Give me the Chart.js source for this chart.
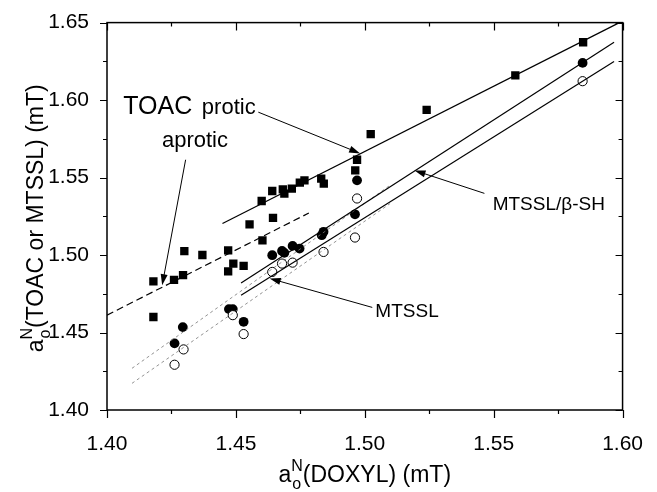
<!DOCTYPE html>
<html>
<head>
<meta charset="utf-8">
<script src="https://cdn.jsdelivr.net/npm/chart.js@4.4.1/dist/chart.umd.min.js"></script>
<style>
  html, body { margin: 0; padding: 0; background: #fff; }
  #wrap { width: 657px; height: 492px; position: relative; }
</style>
</head>
<body>
<div id="wrap"><canvas id="chart"></canvas></div>
<script>
// TOAC (filled squares)
const toacX = [1.418, 1.418, 1.426, 1.4295, 1.430, 1.437, 1.447, 1.447, 1.449, 1.453, 1.4553, 1.4603, 1.4644, 1.460,
  1.4641, 1.4682, 1.4688, 1.4717, 1.4748, 1.4766, 1.4831, 1.4841, 1.4963, 1.497, 1.5023, 1.524, 1.5584, 1.5847];
const toacY = [1.483, 1.460, 1.484, 1.487, 1.5025, 1.500, 1.503, 1.4895, 1.4945, 1.493, 1.5198, 1.5095, 1.524, 1.5349,
  1.5413, 1.5424, 1.5396, 1.5429, 1.5467, 1.5482, 1.5493, 1.5461, 1.5546, 1.5615, 1.578, 1.5937, 1.6159, 1.6373];

// MTSSL/beta-SH (filled circles)
const bshX = [1.4262, 1.4294, 1.4473, 1.4488, 1.453, 1.4641, 1.4679, 1.4688, 1.472, 1.4747, 1.4833, 1.484, 1.4962, 1.497, 1.5845];
const bshY = [1.443, 1.4535, 1.4651, 1.4651, 1.4569, 1.4999, 1.5026, 1.5014, 1.5059, 1.5042, 1.5128, 1.515, 1.5263, 1.5482, 1.624];

// MTSSL (open circles)
const mtsslX = [1.4262, 1.4297, 1.4488, 1.453, 1.4641, 1.4679, 1.472, 1.484, 1.4962, 1.497, 1.5845];
const mtsslY = [1.4292, 1.4391, 1.4612, 1.449, 1.4891, 1.4945, 1.4951, 1.502, 1.5113, 1.5365, 1.6122];

// fitted lines (end points)
const proticLineX = [1.4448, 1.5982], proticLineY = [1.5203, 1.6495];
const aproticLineX = [1.400, 1.4783], aproticLineY = [1.4612, 1.5271];
const bshLineX = [1.452, 1.5967], bshLineY = [1.482, 1.6373];
const mtsslLineX = [1.452, 1.5967], mtsslLineY = [1.474, 1.6249];
const bshExtX = [1.4097, 1.5098], bshExtY = [1.4269, 1.545];
const mtsslExtX = [1.4097, 1.5098], mtsslExtY = [1.4172, 1.5332];

// axes
const xTicks = [1.40, 1.45, 1.50, 1.55, 1.60];
const xMinor = [1.425, 1.475, 1.525, 1.575];
const yTicks = [1.40, 1.45, 1.50, 1.55, 1.60, 1.65];
const yMinor = [1.425, 1.475, 1.525, 1.575, 1.625];

const FONT = "'Liberation Sans', Arial, sans-serif";

function pts(xs, ys) {
  return xs.map((x, i) => ({ x, y: ys[i] }));
}

function lineSet(xs, ys, opts) {
  return Object.assign({
    type: "line",
    data: pts(xs, ys),
    borderColor: "#000",
    borderWidth: 1.2,
    pointRadius: 0,
    fill: false,
    tension: 0
  }, opts || {});
}

// composite label: a, subscript o, superscript N, then rest
function drawAoN(ctx, x, y, size, rest) {
  ctx.font = `${size}px ${FONT}`;
  ctx.fillText("a", x, y);
  let cx = x + ctx.measureText("a").width;
  const small = Math.round(size * 0.68);
  ctx.font = `${small}px ${FONT}`;
  ctx.fillText("o", cx + 1, y + size * 0.3);
  ctx.fillText("N", cx, y - size * 0.5);
  cx += Math.max(ctx.measureText("o").width + 1, ctx.measureText("N").width);
  ctx.font = `${size}px ${FONT}`;
  ctx.fillText(rest, cx, y);
}

function aonWidth(ctx, size, rest) {
  ctx.font = `${size}px ${FONT}`;
  let w = ctx.measureText("a").width + ctx.measureText(rest).width;
  ctx.font = `${Math.round(size * 0.68)}px ${FONT}`;
  w += Math.max(ctx.measureText("o").width + 1, ctx.measureText("N").width);
  return w;
}

function arrow(ctx, x, y, x0, y0, x1, y1) {
  const ax = x.getPixelForValue(x0), ay = y.getPixelForValue(y0);
  const bx = x.getPixelForValue(x1), by = y.getPixelForValue(y1);
  const ang = Math.atan2(by - ay, bx - ax);
  const len = 11, half = 3.5;
  ctx.beginPath();
  ctx.moveTo(ax, ay);
  ctx.lineTo(bx - Math.cos(ang) * len * 0.8, by - Math.sin(ang) * len * 0.8);
  ctx.stroke();
  ctx.beginPath();
  ctx.moveTo(bx, by);
  ctx.lineTo(bx - Math.cos(ang) * len - Math.sin(ang) * half, by - Math.sin(ang) * len + Math.cos(ang) * half);
  ctx.lineTo(bx - Math.cos(ang) * len + Math.sin(ang) * half, by - Math.sin(ang) * len - Math.cos(ang) * half);
  ctx.closePath();
  ctx.fill();
}

const decor = {
  id: "decor",
  afterDraw(chart) {
    const { ctx, chartArea: a, scales: { x, y } } = chart;
    ctx.save();
    ctx.strokeStyle = "#000";
    ctx.fillStyle = "#000";

    // frame
    ctx.lineWidth = 1.5;
    ctx.strokeRect(a.left, a.top, a.right - a.left, a.bottom - a.top);

    // ticks
    ctx.lineWidth = 1.2;
    ctx.beginPath();
    const tx = (v, len) => {
      const px = Math.round(x.getPixelForValue(v)) + 0.5;
      ctx.moveTo(px, a.bottom); ctx.lineTo(px, a.bottom + len);
      ctx.moveTo(px, a.top); ctx.lineTo(px, a.top + len);
    };
    const ty = (v, len) => {
      const py = Math.round(y.getPixelForValue(v)) + 0.5;
      ctx.moveTo(a.left, py); ctx.lineTo(a.left - len, py);
      ctx.moveTo(a.right, py); ctx.lineTo(a.right - len, py);
    };
    xTicks.forEach(v => tx(v, 8));
    xMinor.forEach(v => tx(v, 4));
    yTicks.forEach(v => ty(v, 7));
    yMinor.forEach(v => ty(v, 4));
    ctx.stroke();

    // annotation arrows
    ctx.lineWidth = 1;
    arrow(ctx, x, y, 1.4587, 1.5922, 1.4982, 1.5656);
    arrow(ctx, x, y, 1.4305, 1.5615, 1.4214, 1.4805);
    arrow(ctx, x, y, 1.5464, 1.5398, 1.5193, 1.5546);
    arrow(ctx, x, y, 1.5029, 1.4662, 1.4631, 1.4849);

    // annotation texts
    ctx.textAlign = "left";
    ctx.textBaseline = "alphabetic";
    ctx.font = `25px ${FONT}`;
    ctx.fillText("TOAC", x.getPixelForValue(1.4063), y.getPixelForValue(1.5912));
    ctx.font = `22px ${FONT}`;
    ctx.fillText("protic", x.getPixelForValue(1.4368), y.getPixelForValue(1.5912));
    ctx.fillText("aprotic", x.getPixelForValue(1.4213), y.getPixelForValue(1.5695));
    ctx.font = `19px ${FONT}`;
    ctx.fillText("MTSSL/\u03B2-SH", x.getPixelForValue(1.5496), y.getPixelForValue(1.5289));
    ctx.fillText("MTSSL", x.getPixelForValue(1.5041), y.getPixelForValue(1.4601));

    // axis titles
    const tsize = 23;
    const xr = "(DOXYL) (mT)";
    const xw = aonWidth(ctx, tsize, xr);
    drawAoN(ctx, (a.left + a.right) / 2 - xw / 2, 482, tsize, xr);

    const yr = "(TOAC or MTSSL) (mT)";
    const yw = aonWidth(ctx, tsize, yr);
    ctx.translate(43, (a.top + a.bottom) / 2 + 2);
    ctx.rotate(-Math.PI / 2);
    drawAoN(ctx, -yw / 2, 0, tsize, yr);
    ctx.restore();
  }
};

const canvas = document.getElementById("chart");
new Chart(canvas, {
  data: {
    datasets: [
      lineSet(proticLineX, proticLineY),
      lineSet(aproticLineX, aproticLineY, { borderDash: [7, 4] }),
      lineSet(bshLineX, bshLineY),
      lineSet(mtsslLineX, mtsslLineY),
      lineSet(bshExtX, bshExtY, { borderColor: "#777", borderWidth: 0.8, borderDash: [3, 3] }),
      lineSet(mtsslExtX, mtsslExtY, { borderColor: "#777", borderWidth: 0.8, borderDash: [3, 3] }),
      {
        type: "scatter",
        data: pts(toacX, toacY),
        pointStyle: "rect",
        pointRadius: 5.9,
        backgroundColor: "#000",
        borderColor: "#000",
        borderWidth: 0
      },
      {
        type: "scatter",
        data: pts(mtsslX, mtsslY),
        pointStyle: "circle",
        pointRadius: 4.6,
        backgroundColor: "#fff",
        borderColor: "#000",
        borderWidth: 1
      },
      {
        type: "scatter",
        data: pts(bshX, bshY),
        pointStyle: "circle",
        pointRadius: 4.9,
        backgroundColor: "#000",
        borderColor: "#000",
        borderWidth: 0
      }
    ]
  },
  options: {
    responsive: true,
    maintainAspectRatio: false,
    animation: false,
    layout: { padding: { top: 22, right: 22, left: 0, bottom: 0 } },
    plugins: {
      legend: { display: false },
      tooltip: { enabled: false }
    },
    scales: {
      x: {
        type: "linear",
        min: 1.40,
        max: 1.60,
        afterBuildTicks: s => { s.ticks = xTicks.map(v => ({ value: v })); },
        afterFit: s => { s.height = 82; },
        grid: { display: false },
        border: { display: false },
        ticks: {
          padding: 14,
          color: "#000",
          font: { family: FONT, size: 21 },
          maxRotation: 0,
          autoSkip: false,
          callback: v => v.toFixed(2)
        }
      },
      y: {
        type: "linear",
        min: 1.40,
        max: 1.65,
        afterBuildTicks: s => { s.ticks = yTicks.map(v => ({ value: v })); },
        afterFit: s => { s.width = 107; },
        grid: { display: false },
        border: { display: false },
        ticks: {
          padding: 10,
          color: "#000",
          font: { family: FONT, size: 21 },
          autoSkip: false,
          callback: v => v.toFixed(2)
        }
      }
    }
  },
  plugins: [decor]
});
</script>
</body>
</html>
